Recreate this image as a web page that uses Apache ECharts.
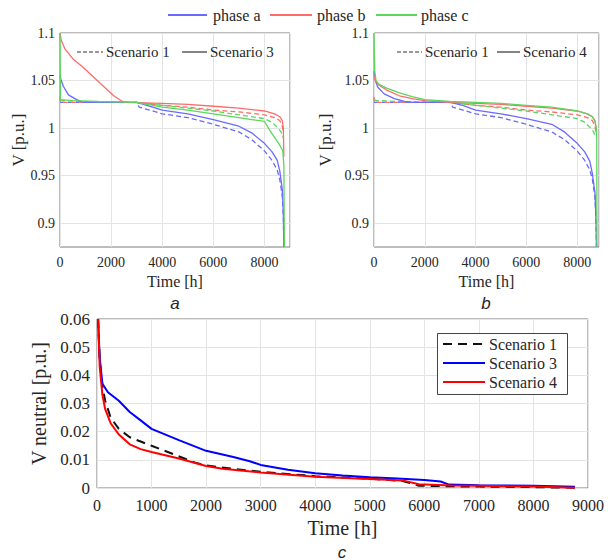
<!DOCTYPE html>
<html><head><meta charset="utf-8">
<script src="https://cdn.jsdelivr.net/npm/echarts@6/dist/echarts.min.js"></script>
<style>html,body{margin:0;padding:0;background:#fff}#chart{width:608px;height:560px}</style>
</head><body><div id="chart"></div>
<script>
// ---------- tick labels ----------
const yTicksAB = [0.9, 0.95, 1, 1.05, 1.1];
const xTicksAB = [0, 2000, 4000, 6000, 8000];
const yTicksC = [0, 0.01, 0.02, 0.03, 0.04, 0.05, 0.06];
const xTicksC = [0, 1000, 2000, 3000, 4000, 5000, 6000, 7000, 8000, 9000];
const phaseNames = ['phase a', 'phase b', 'phase c'];
const scenarioNames = ['Scenario 1', 'Scenario 3', 'Scenario 4'];

// ---------- Scenario 1 (dashed, panels a and b) : [hours, V p.u.] ----------
const s1PhaseA = [[0,1.027],[3000,1.027],[3100,1.022],[3500,1.019],[4000,1.015],[5000,1.011],[6000,1.004],[7000,0.996],[7500,0.988],[8000,0.976],[8300,0.966],[8500,0.956],[8600,0.946],[8700,0.928],[8740,0.905],[8760,0.875]];
const s1PhaseB = [[0,1.033],[20,1.027],[3000,1.027],[4000,1.024],[5000,1.022],[6000,1.019],[7000,1.017],[8000,1.014],[8400,1.011],[8600,1.008],[8700,1.002],[8740,0.995]];
const s1PhaseC = [[0,1.03],[100,1.029],[1000,1.028],[3000,1.027],[4000,1.024],[5000,1.021],[6000,1.018],[7000,1.014],[8000,1.01],[8300,1.006],[8500,1.001],[8650,0.996],[8720,0.99]];

// ---------- Scenario 3 (solid, panel a) ----------
const s3PhaseA = [[0,1.055],[50,1.05],[130,1.044],[330,1.035],[650,1.03],[900,1.027],[3000,1.027],[3500,1.023],[4000,1.019],[5000,1.015],[6000,1.009],[7000,1.002],[7500,0.995],[8000,0.984],[8300,0.975],[8500,0.966],[8600,0.955],[8700,0.935],[8740,0.91],[8760,0.875]];
const s3PhaseB = [[0,1.1],[50,1.092],[200,1.083],[500,1.073],[900,1.064],[1300,1.054],[1700,1.044],[2100,1.034],[2450,1.028],[2600,1.027],[4000,1.026],[5000,1.025],[6000,1.023],[7000,1.021],[8000,1.018],[8400,1.015],[8600,1.012],[8700,1.008],[8740,1.0],[8760,0.97]];
const s3PhaseC = [[0,1.1],[20,1.03],[500,1.029],[1500,1.028],[3000,1.027],[4000,1.022],[5000,1.019],[6000,1.015],[7000,1.011],[7500,1.009],[8000,1.007],[8200,0.998],[8400,0.99],[8600,0.982],[8720,0.976],[8760,0.96],[8780,0.875]];

// ---------- Scenario 4 (solid, panel b) ----------
const s4PhaseA = [[0,1.06],[50,1.05],[150,1.043],[400,1.036],[800,1.031],[1200,1.028],[1500,1.027],[3000,1.027],[3500,1.024],[4000,1.019],[5000,1.015],[6000,1.01],[7000,1.004],[7500,0.996],[8000,0.984],[8300,0.975],[8500,0.965],[8600,0.952],[8700,0.932],[8740,0.905],[8760,0.875]];
const s4PhaseB = [[0,1.055],[50,1.05],[200,1.045],[500,1.04],[1000,1.034],[1500,1.031],[2000,1.029],[3000,1.027],[4000,1.026],[5000,1.025],[6000,1.023],[7000,1.021],[8000,1.018],[8400,1.015],[8600,1.012],[8700,1.008],[8750,1.0],[8760,0.995]];
const s4PhaseC = [[0,1.1],[30,1.06],[80,1.05],[200,1.046],[500,1.042],[1000,1.037],[1500,1.033],[2000,1.03],[3000,1.028],[4000,1.027],[5000,1.026],[6000,1.024],[7000,1.022],[8000,1.018],[8400,1.015],[8600,1.012],[8700,1.007],[8750,1.0],[8770,0.99],[8780,0.875]];

// ---------- Panel c : neutral voltage ----------
const neutralS1 = [[20,0.06],[50,0.045],[100,0.036],[150,0.031],[250,0.025],[400,0.021],[600,0.018],[800,0.0165],[1000,0.015],[1400,0.012],[1800,0.009],[2000,0.008],[2500,0.0068],[3000,0.0058],[4000,0.0042],[5000,0.0033],[5600,0.0025],[5900,0.0008],[6500,0.0006],[7000,0.0005],[8000,0.0003],[8760,0.0001]];
const neutralS3 = [[20,0.06],[50,0.046],[100,0.037],[200,0.034],[400,0.031],[600,0.027],[800,0.024],[1000,0.021],[1500,0.017],[2000,0.0132],[2500,0.011],[2800,0.0095],[3000,0.0082],[3500,0.0065],[4000,0.0052],[4500,0.0044],[5000,0.0038],[5500,0.0034],[6000,0.0028],[6300,0.0023],[6450,0.0012],[7000,0.001],[8000,0.0008],[8760,0.0004]];
const neutralS4 = [[20,0.06],[50,0.043],[100,0.033],[150,0.028],[250,0.023],[400,0.019],[600,0.0155],[800,0.0138],[1000,0.0128],[1500,0.0105],[2000,0.0078],[2300,0.0068],[3000,0.0055],[4000,0.004],[5000,0.0032],[5600,0.0027],[5900,0.0013],[6500,0.0009],[7000,0.0008],[8000,0.0005],[8760,0.0001]];

// ---------- styling ----------
const SERIF = "'Liberation Serif', 'Times New Roman', serif";
const TXT = '#262626';
const GRIDC = '#e4e4e4';
const BOX = '#7a7a7a';
const colA = '#6a6aff', colB = '#ff6b6b', colC = '#5cd65c';
const colS1 = '#111', colS3 = '#0000ff', colS4 = '#ff0000';

function fmt(v){ return String(parseFloat(Number(v).toFixed(3))); }
function inList(list, v){ return list.some(t => Math.abs(t - v) < 1e-6); }

function xAxisAB(gi, max){
  return {gridIndex:gi, type:'value', min:0, max:max, interval:2000,
    axisLine:{show:false}, axisTick:{show:false},
    splitLine:{show:true, lineStyle:{color:GRIDC, width:1}},
    axisLabel:{fontFamily:SERIF, fontSize:14, color:TXT, margin:8,
      formatter: v => inList(xTicksAB, v) ? fmt(v) : ''},
    name:'Time [h]', nameLocation:'middle', nameGap:26,
    nameTextStyle:{fontFamily:SERIF, fontSize:16, color:TXT}};
}
function yAxisAB(gi, gap){
  return {gridIndex:gi, type:'value', min:0.875, max:1.1, interval:0.025,
    axisLine:{show:false}, axisTick:{show:false},
    splitLine:{show:true, lineStyle:{color:['rgba(0,0,0,0)', GRIDC], width:1}},
    axisLabel:{fontFamily:SERIF, fontSize:14, color:TXT, margin:5,
      formatter: v => inList(yTicksAB, v) ? fmt(v) : ''},
    name:'V [p.u.]', nameLocation:'middle', nameGap:gap,
    nameTextStyle:{fontFamily:SERIF, fontSize:17, color:TXT}};
}
function phaseLine(data, color, dashed, gi){
  return {type:'line', xAxisIndex:gi, yAxisIndex:gi, data:data, showSymbol:false, symbol:'none',
    silent:true, animation:false, z: dashed ? 2 : 3,
    lineStyle:{color:color, width:1.3, type: dashed ? [5,3] : 'solid'}};
}
function neutralLine(name, data, color, dash){
  return {name:name, type:'line', xAxisIndex:2, yAxisIndex:2, data:data, showSymbol:false, symbol:'none',
    silent:true, animation:false, lineStyle:{color:color, width:2, type: dash || 'solid'}};
}

const series = [
  phaseLine(s1PhaseA, colA, true, 0), phaseLine(s1PhaseB, colB, true, 0), phaseLine(s1PhaseC, colC, true, 0),
  phaseLine(s3PhaseA, colA, false, 0), phaseLine(s3PhaseB, colB, false, 0), phaseLine(s3PhaseC, colC, false, 0),
  phaseLine(s1PhaseA, colA, true, 1), phaseLine(s1PhaseB, colB, true, 1), phaseLine(s1PhaseC, colC, true, 1),
  phaseLine(s4PhaseA, colA, false, 1), phaseLine(s4PhaseB, colB, false, 1), phaseLine(s4PhaseC, colC, false, 1),
  neutralLine(scenarioNames[0], neutralS1, colS1, [9,6]),
  neutralLine(scenarioNames[1], neutralS3, colS3),
  neutralLine(scenarioNames[2], neutralS4, colS4)
];

function gline(x1,y1,x2,y2,color,w,dash){
  return {type:'line', silent:true, z:100, shape:{x1,y1,x2,y2}, style:{stroke:color, lineWidth:w, lineDash:dash||null}};
}
function gtext(x,y,text,font,align){
  return {type:'text', silent:true, z:101, x:x, y:y, style:{text:text, font:font, fill:TXT, align:align||'left', verticalAlign:'middle'}};
}
const legFont = "16px 'Liberation Serif', 'Times New Roman', serif";
const inFont = "15px 'Liberation Serif', 'Times New Roman', serif";
const capFont = "italic 17px 'Liberation Sans', Arial, sans-serif";

const graphic = [
  gline(168,15,207,15,colA,2), gtext(213,15,phaseNames[0],legFont),
  gline(270,15,312,15,colB,2), gtext(317,15,phaseNames[1],legFont),
  gline(376,15,417,15,colC,2), gtext(421,15,phaseNames[2],legFont),
  gline(77,52,103,52,'#333',1.2,[4,2]), gtext(106,52,scenarioNames[0],inFont),
  gline(182,52,207,52,'#333',1.2), gtext(210,52,scenarioNames[1],inFont),
  gline(397,52,422,52,'#333',1.2,[4,2]), gtext(425,52,scenarioNames[0],inFont),
  gline(497,52,520,52,'#333',1.2), gtext(523,52,scenarioNames[2],inFont),
  // legend of panel c
  {type:'rect', silent:true, z:99, shape:{x:437.5, y:333.5, width:130, height:61}, style:{fill:'#fff', stroke:'#444', lineWidth:1}},
  gline(443,344,485,344,colS1,2,[9,6]), gtext(489,344,scenarioNames[0],legFont),
  gline(443,363,485,363,colS3,2), gtext(489,363,scenarioNames[1],legFont),
  gline(443,382,485,382,colS4,2), gtext(489,382,scenarioNames[2],legFont),
  gtext(175,303,'a',capFont,'center'),
  gtext(486,303,'b',capFont,'center'),
  gtext(342,552,'c',capFont,'center')
];

const option = {
  backgroundColor:'#fff',
  animation:false,
  grid:[
    {left:60, top:33, width:230, height:214, show:true, borderColor:BOX, borderWidth:1, containLabel:false},
    {left:374, top:33, width:225, height:214, show:true, borderColor:BOX, borderWidth:1, containLabel:false},
    {left:97, top:319, width:491, height:169, show:true, borderColor:BOX, borderWidth:1, containLabel:false}
  ],
  xAxis:[
    xAxisAB(0, 9000),
    xAxisAB(1, 8860),
    {gridIndex:2, type:'value', min:0, max:9000, interval:1000,
      axisLine:{show:false}, axisTick:{show:false},
      splitLine:{show:true, lineStyle:{color:GRIDC}},
      axisLabel:{fontFamily:SERIF, fontSize:16, color:TXT, margin:9,
        formatter: v => inList(xTicksC, v) ? fmt(v) : ''},
      name:'Time [h]', nameLocation:'middle', nameGap:30,
      nameTextStyle:{fontFamily:SERIF, fontSize:20, color:TXT}}
  ],
  yAxis:[
    yAxisAB(0, 31),
    yAxisAB(1, 40),
    {gridIndex:2, type:'value', min:0, max:0.06, interval:0.01,
      axisLine:{show:false}, axisTick:{show:false},
      splitLine:{show:true, lineStyle:{color:GRIDC}},
      axisLabel:{fontFamily:SERIF, fontSize:17, color:TXT, margin:7,
        formatter: v => inList(yTicksC, v) ? fmt(v) : ''},
      name:'V neutral [p.u.]', nameLocation:'middle', nameGap:47,
      nameTextStyle:{fontFamily:SERIF, fontSize:20, color:TXT}}
  ],
  graphic: graphic,
  series: series
};
const chart = echarts.init(document.getElementById('chart'), null, {renderer:'svg'});
chart.setOption(option);
</script></body></html>
